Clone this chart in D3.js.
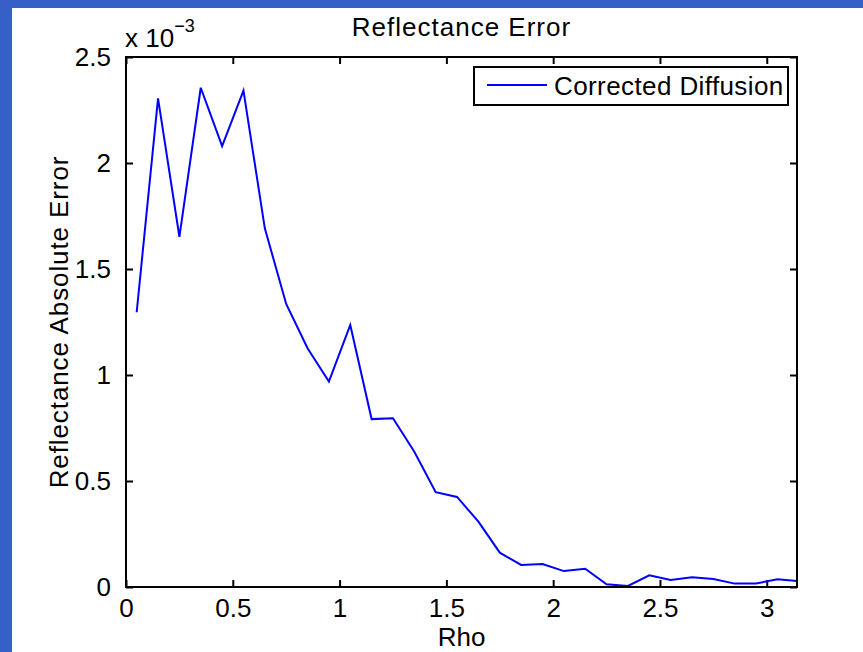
<!DOCTYPE html>
<html>
<head>
<meta charset="utf-8">
<script src="https://cdn.jsdelivr.net/npm/d3@7"></script>
<style>
  body { margin: 0; background: #375fc8; }
  svg text { font-family: "Liberation Sans", Arial, sans-serif; fill: #000; }
</style>
</head>
<body>
<div id="chart"></div>
<script>
// rho positions and absolute reflectance error (x 1e-3)
var rho = [0.05, 0.15, 0.25, 0.35, 0.45, 0.55, 0.65, 0.75, 0.85, 0.95,
           1.05, 1.15, 1.25, 1.35, 1.45, 1.55, 1.65, 1.75, 1.85, 1.95,
           2.05, 2.15, 2.25, 2.35, 2.45, 2.55, 2.65, 2.75, 2.85, 2.95,
           3.05, 3.15];
var errCorrected = [1.296, 2.305, 1.652, 2.355, 2.080, 2.341, 1.692, 1.335, 1.126, 0.969,
                    1.236, 0.792, 0.796, 0.638, 0.447, 0.425, 0.308, 0.162, 0.104, 0.108,
                    0.075, 0.086, 0.013, 0.005, 0.055, 0.033, 0.046, 0.038, 0.016, 0.017,
                    0.036, 0.027];
var xTicks = [0, 0.5, 1, 1.5, 2, 2.5, 3];
var yTicks = [0, 0.5, 1, 1.5, 2, 2.5];
var seriesName = "Corrected Diffusion";

var W = 863, H = 652;
var m = { l: 126, r: 797, t: 57, b: 587 };

var svg = d3.select("#chart").append("svg")
    .attr("width", W).attr("height", H)
    .style("display", "block");

// blue frame + white figure area
svg.append("rect").attr("x", 0).attr("y", 0).attr("width", W).attr("height", H).attr("fill", "#375fc8");
svg.append("rect").attr("x", 12).attr("y", 8).attr("width", W - 12).attr("height", H - 8).attr("fill", "#fff");

var x = d3.scaleLinear().domain([0, Math.PI]).range([m.l, m.r]);
var y = d3.scaleLinear().domain([0, 2.5]).range([m.b, m.t]);

svg.append("defs").append("clipPath").attr("id", "clip")
  .append("rect").attr("x", m.l).attr("y", m.t).attr("width", m.r - m.l).attr("height", m.b - m.t);

// axes (MATLAB style: inward ticks on all sides)
var fmt = function(d){ return String(d); };
var tickLen = 7;

svg.append("g").attr("transform", "translate(0," + m.b + ")")
  .call(d3.axisBottom(x).tickValues(xTicks).tickFormat(fmt).tickSizeInner(-tickLen).tickSizeOuter(0).tickPadding(12))
  .call(function(g){
    g.select(".domain").remove();
    g.selectAll("line").attr("stroke", "#000").attr("stroke-width", 2);
    g.selectAll("text").attr("font-size", 26).attr("font-family", "Liberation Sans, Arial, sans-serif").attr("dy", "0.71em");
  });

svg.append("g").attr("transform", "translate(0," + m.t + ")")
  .call(d3.axisTop(x).tickValues(xTicks).tickFormat("").tickSizeInner(-tickLen).tickSizeOuter(0))
  .call(function(g){
    g.select(".domain").remove();
    g.selectAll("line").attr("stroke", "#000").attr("stroke-width", 2);
  });

svg.append("g").attr("transform", "translate(" + m.l + ",0)")
  .call(d3.axisLeft(y).tickValues(yTicks).tickFormat(fmt).tickSizeInner(-tickLen).tickSizeOuter(0).tickPadding(15))
  .call(function(g){
    g.select(".domain").remove();
    g.selectAll("line").attr("stroke", "#000").attr("stroke-width", 2);
    g.selectAll("text").attr("font-size", 26).attr("font-family", "Liberation Sans, Arial, sans-serif");
  });

svg.append("g").attr("transform", "translate(" + m.r + ",0)")
  .call(d3.axisRight(y).tickValues(yTicks).tickFormat("").tickSizeInner(-tickLen).tickSizeOuter(0))
  .call(function(g){
    g.select(".domain").remove();
    g.selectAll("line").attr("stroke", "#000").attr("stroke-width", 2);
  });

// the series
var line = d3.line()
    .x(function(d, i){ return x(rho[i]); })
    .y(function(d){ return y(d); });

svg.append("path")
    .datum(errCorrected)
    .attr("clip-path", "url(#clip)")
    .attr("d", line)
    .attr("fill", "none")
    .attr("stroke", "#0000ff")
    .attr("stroke-width", 2);

// box
svg.append("rect")
    .attr("x", m.l).attr("y", m.t)
    .attr("width", m.r - m.l).attr("height", m.b - m.t)
    .attr("fill", "none").attr("stroke", "#000").attr("stroke-width", 2);

// exponent label
var expo = svg.append("text").attr("x", 125).attr("y", 47).attr("font-size", 26);
expo.append("tspan").text("x 10");
expo.append("tspan").attr("font-size", 18).attr("dy", -15).text("\u22123");

// title and axis labels
svg.append("text").attr("x", (m.l + m.r) / 2).attr("y", 36)
    .attr("text-anchor", "middle").attr("font-size", 26).attr("letter-spacing", 1)
    .text("Reflectance Error");

svg.append("text").attr("x", (m.l + m.r) / 2).attr("y", 646)
    .attr("text-anchor", "middle").attr("font-size", 26).text("Rho");

svg.append("text")
    .attr("transform", "translate(68," + ((m.t + m.b) / 2) + ") rotate(-90)")
    .attr("text-anchor", "middle").attr("font-size", 26).attr("letter-spacing", 0.9)
    .text("Reflectance Absolute Error");

// legend
var lg = svg.append("g");
lg.append("rect").attr("x", 474).attr("y", 67).attr("width", 314).attr("height", 38)
    .attr("fill", "#fff").attr("stroke", "#000").attr("stroke-width", 2);
lg.append("line").attr("x1", 487).attr("x2", 547).attr("y1", 85).attr("y2", 85)
    .attr("stroke", "#0000ff").attr("stroke-width", 2);
lg.append("text").attr("x", 554).attr("y", 95).attr("font-size", 26).attr("letter-spacing", 0.4)
    .text(seriesName);
</script>
</body>
</html>
